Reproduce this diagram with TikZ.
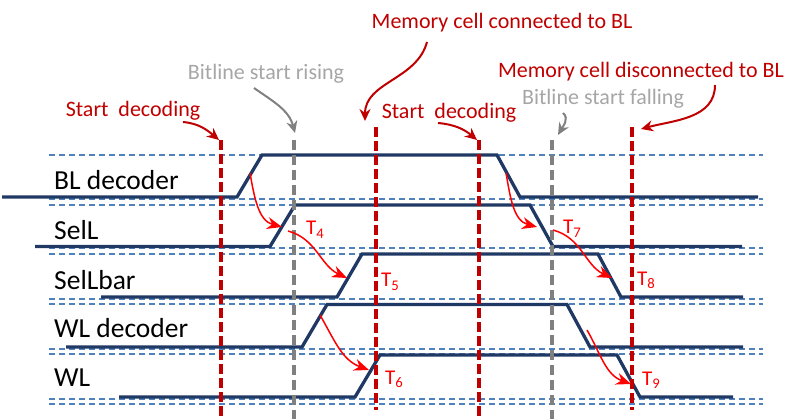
\documentclass[tikz,border=0pt]{standalone}
\usepackage{fontspec}
\setmainfont{Carlito}
\usetikzlibrary{arrows.meta}
\usetikzlibrary{positioning}
\definecolor{navy}{RGB}{31,56,100}
\definecolor{gridblue}{RGB}{79,129,189}
\definecolor{darkred}{RGB}{192,0,0}
\definecolor{notegray}{RGB}{166,166,166}
\definecolor{markgray}{RGB}{128,128,128}
\tikzset{guide/.style={gridblue, line width=1.8pt, dash pattern=on 6pt off 4pt},
	wavestyle/.style={navy, line width=3.3pt, line join=miter},
	redmark/.style={darkred, line width=4pt, dash pattern=on 10pt off 4pt},
	graymark/.style={markgray, line width=4pt, dash pattern=on 10pt off 5pt},
	rowname/.style={anchor=west, inner sep=0pt, font=\fontsize{27.5}{30}\selectfont},
	rednote/.style={inner sep=0pt, darkred, font=\fontsize{22}{24}\selectfont},
	graynote/.style={inner sep=0pt, notegray, font=\fontsize{22}{24}\selectfont},
	redpointer/.style={darkred, line width=2pt, -{Stealth[length=12pt,width=11pt]}},
	graypointer/.style={markgray, line width=2pt, -{Stealth[length=12pt,width=11pt]}},
	cause/.style={red, line width=1.5pt, -{Stealth[length=15pt,width=12pt]}},
	tlabel/.style={anchor=base west, inner sep=0pt, red, font=\fontsize{21}{23}\selectfont}}
% low y, high y, start x, rise x, fall x, end x
\newcommand{\wave}[6]{\draw[wavestyle] (#3,#1) -- (#4,#1) -- (#4+25,#2) -- (#5,#2) -- (#5+23,#1) -- (#6,#1);}
\begin{document}
\begin{tikzpicture}[x=1pt, y=-1pt]
	\useasboundingbox (0,0) rectangle (810,419);

	% guide levels
	\foreach \lev in {155,199,205,248,254,299,304,349,354,399,404}
		\draw[guide] (49,\lev) -- (763,\lev);

	% waveforms
	\wave{197}{155}{2}{237}{497}{758}
	\wave{246.5}{205}{35}{270}{530}{742}
	\wave{297}{254}{101}{337}{598}{743}
	\wave{347}{304.5}{66}{302}{567}{743}
	\wave{397}{355}{119}{355}{617}{733}

	\node[rowname] (bldec) at (54,180) {BL decoder};
	\node[rowname] (sell) at (54,230) {SelL};
	\node[rowname] (sellbar) at (54,280) {SelLbar};
	\node[rowname] (wldec) at (54,328) {WL decoder};
	\node[rowname] (wl) at (54,378) {WL};

	% time marks
	\coordinate (markA) at (221,140);
	\coordinate (markB) at (294,140);
	\coordinate (markC) at (376,127);
	\coordinate (markD) at (479,140);
	\coordinate (markE) at (552,140);
	\coordinate (markF) at (632,127);
	\draw[redmark] (markA) -- (221,419);
	\draw[graymark] (markB) -- (294,419);
	\draw[redmark] (markC) -- (376,410);
	\draw[redmark] (markD) -- (479,419);
	\draw[graymark] (markE) -- (552,419);
	\draw[redmark] (markF) -- (632,410);

	% notes
	\node[rednote] (decodeA) at (133,111) {Start\ \ decoding};
	\node[graynote] (rising) at (266,74) {Bitline start rising};
	\node[rednote] (connected) at (502,23) {Memory cell connected to BL};
	\node[rednote] (decodeB) at (449,113) {Start\ \ decoding};
	\node[graynote] (falling) at (603,99) {Bitline start falling};
	\node[rednote] (disconnected) at (641,72) {Memory cell disconnected to BL};

	\draw[redpointer] ([shift={(50,11)}]decodeA.center) to[out=-5,in=140] ([shift={(-2,0)}]markA);
	\draw[graypointer] ([shift={(-12,14)}]rising.center) to[out=-35,in=105] ([shift={(1,-7)}]markB);
	\draw[redpointer] ([shift={(-75,19)}]connected.center) to[out=-105,in=90] ([shift={(-11,-6)}]markC);
	\draw[redpointer] ([shift={(-11,10)}]decodeB.center) to[out=-5,in=140] ([shift={(-2,0)}]markD);
	\draw[graypointer] ([shift={(-40,14)}]falling.center) to[out=-40,in=60] ([shift={(6,-5)}]markE);
	\draw[redpointer] ([shift={(74,13)}]disconnected.center) to[out=-90,in=15] ([shift={(9,2)}]markF);

	% causal arrows
	\coordinate (blrise) at (250,173);
	\coordinate (sellrise) at (282,227);
	\coordinate (sellfrom) at (288,231);
	\coordinate (sellbarrise) at (347,278);
	\coordinate (wldecrise) at (320,315);
	\coordinate (wlrise) at (369,370);
	\coordinate (blfall) at (506,173);
	\coordinate (sellfall) at (537,227);
	\coordinate (sellfallfrom) at (553,230);
	\coordinate (sellbarfall) at (612,278);
	\coordinate (wldecfall) at (587,330);
	\coordinate (wlfall) at (631,384);
	\draw[cause] (blrise) to[out=-80,in=165] (sellrise);
	\draw[cause] (sellfrom) to[out=-15,in=155] (sellbarrise);
	\draw[cause] (wldecrise) to[out=-60,in=160] (wlrise);
	\draw[cause] (blfall) to[out=-80,in=165] (sellfall);
	\draw[cause] (sellfallfrom) to[out=-15,in=155] (sellbarfall);
	\draw[cause] (wldecfall) to[out=-60,in=160] (wlfall);

	\node[tlabel] (t4) at (306,235) {T\textsubscript{4}};
	\node[tlabel] (t5) at (381,287) {T\textsubscript{5}};
	\node[tlabel] (t6) at (385,384) {T\textsubscript{6}};
	\node[tlabel] (t7) at (563,234) {T\textsubscript{7}};
	\node[tlabel] (t8) at (637,285) {T\textsubscript{8}};
	\node[tlabel] (t9) at (642,385) {T\textsubscript{9}};
\end{tikzpicture}
\end{document}
